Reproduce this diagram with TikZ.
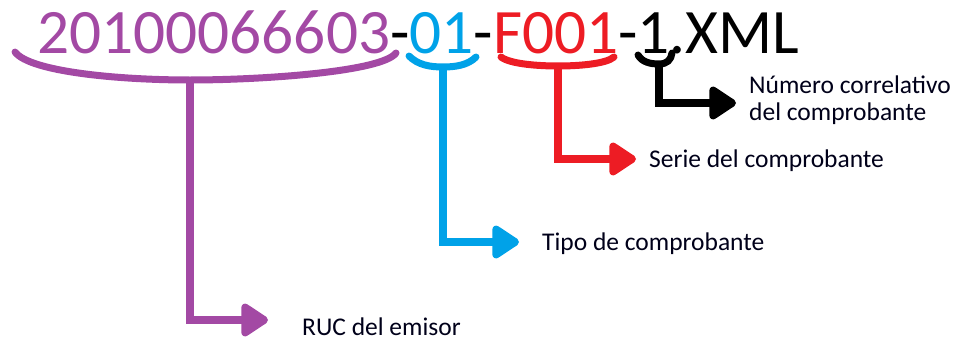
\documentclass[tikz,border=0pt]{standalone}
\usepackage{fontspec}
\setmainfont{Carlito}
\usetikzlibrary{arrows.meta}
\definecolor{ppl}{HTML}{A349A4}
\definecolor{blu}{HTML}{00A2E8}
\definecolor{rd}{HTML}{ED1C24}
\begin{document}
\begin{tikzpicture}[x=1pt,y=-1pt,
  brace/.style={line width=7pt,line cap=round},
  stem/.style={line width=8.5pt,-{Triangle[length=30pt,width=37pt,round]}},
  lbl/.style={anchor=base west,inner sep=0pt,font=\fontsize{25.5}{27}\selectfont,text=black!90!blue}]
\useasboundingbox (0,0) rectangle (958,340);
\node[anchor=base west,inner sep=0pt,font=\fontsize{63.3}{70}\selectfont] (name) at (37,53)
  {\textcolor{ppl}{20100066603}-\textcolor{blu}{01}-\textcolor{rd}{F001}-1.XML};
% label nodes
\node[lbl] (ruc) at (302,335) {RUC del emisor};
\node[lbl] (tipo) at (542,250) {Tipo de comprobante};
\node[lbl] (serie) at (649,167) {Serie del comprobante};
\node[lbl] (num1) at (749,93) {Número correlativo};
\node[lbl] (num2) at (749,120) {del comprobante};
% brace bottoms and arrow tips
\coordinate (pb) at (190,80);
\coordinate (bb) at (443,67);
\coordinate (rb) at (558,66);
\coordinate (kb) at (659,64);
\coordinate (pt) at (268,320);
\coordinate (bt) at (519,242);
\coordinate (rt) at (636,159);
\coordinate (kt) at (736,103);
% braces
\draw[brace,ppl] (15,52) .. controls (30,72) and (120,80) .. (pb) .. controls (260,80) and (382,72) .. (396,53);
\draw[brace,blu] (409,56) .. controls (418,65) and (430,67) .. (bb) .. controls (456,67) and (468,65) .. (476,57);
\draw[brace,rd] (501,57) .. controls (510,64) and (538,66) .. (rb) .. controls (578,66) and (606,64) .. (614,57);
\draw[brace,black] (638,55) .. controls (642,62) and (650,64) .. (kb) .. controls (667,64) and (671,60) .. (672,53);
% stems with arrows
\draw[stem,ppl] (pb) |- (pt);
\draw[stem,blu] (bb) |- (bt);
\draw[stem,rd] (rb) |- (rt);
\draw[stem,black] (kb) |- (kt);
\end{tikzpicture}
\end{document}
